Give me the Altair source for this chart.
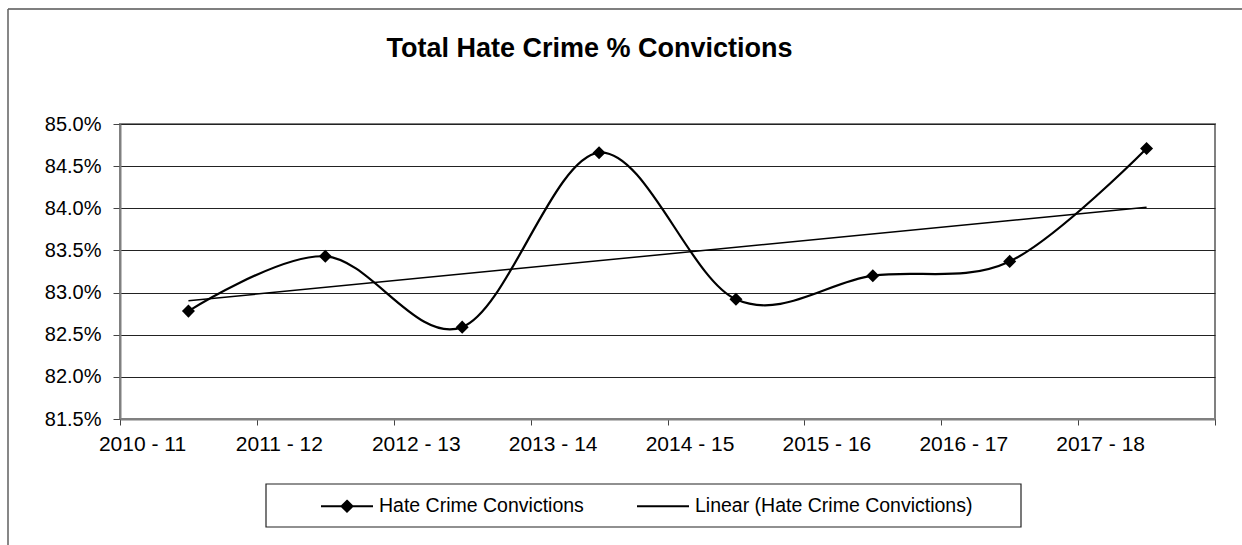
import altair as alt
import pandas as pd

years = ["2010 - 11", "2011 - 12", "2012 - 13", "2013 - 14",
         "2014 - 15", "2015 - 16", "2016 - 17", "2017 - 18"]
convictions = [82.78, 83.43, 82.59, 84.66, 82.92, 83.20, 83.37, 84.71]
series_names = ["Hate Crime Convictions", "Linear (Hate Crime Convictions)"]
y_ticks = [81.5, 82.0, 82.5, 83.0, 83.5, 84.0, 84.5, 85.0]

df = pd.DataFrame({"idx": list(range(len(years))), "year": years, "val": convictions})
legend_df = pd.DataFrame({"series": series_names, "idx": [0, 0], "val": [convictions[0], convictions[0]]})

FONT = "Arial, Liberation Sans"
W, H = 1095, 295

label_arr = "[" + ",".join("'" + y + "'" for y in years) + "]"
x_label_expr = f"datum.value < {len(years) - 1} ? {label_arr}[round(datum.value + 0.5)] : ''"

x_enc = alt.X(
    "idx:Q",
    scale=alt.Scale(domain=[-0.5, len(years) - 0.5], nice=False, zero=False),
    axis=alt.Axis(
        title=None, values=[i - 0.5 for i in range(len(years) + 1)],
        labelExpr=x_label_expr, labelOffset=22, labelPadding=8,
        labelFont=FONT, labelFontSize=21, labelColor="black",
        labelFlush=False, labelOverlap=False, labelBound=False,
        tickSize=6, tickColor="#444", domainColor="#808080", domainWidth=2,
        grid=False,
    ),
)
y_enc = alt.Y(
    "val:Q",
    scale=alt.Scale(domain=[81.5, 85.0], nice=False, zero=False),
    axis=alt.Axis(
        title=None, values=y_ticks,
        labelExpr="format(datum.value, '.1f') + '%'",
        labelFont=FONT, labelFontSize=20, labelColor="black", labelPadding=12,
        tickSize=7, tickColor="#444", domainColor="#808080", domainWidth=2,
        grid=True, gridColor="#222", gridWidth=1,
    ),
)

# legend glyphs: line with a (stroke-filled) diamond, and a plain line
p1 = ("M-1,0H1M0,-0.21L0.21,0L0,0.21L-0.21,0Z"
      "M-0.15,-0.06H0.15M-0.15,0.06H0.15M-0.09,-0.12H0.09M-0.09,0.12H0.09"
      "M-0.04,-0.17H0.04M-0.04,0.17H0.04")
p2 = "M-1,0H1"

base = alt.Chart(df)

data_line = base.mark_line(interpolate="cardinal", strokeWidth=2.2, color="black").encode(
    x=x_enc, y=y_enc
)

points = base.mark_point(shape="diamond", filled=True, size=170, color="black", opacity=1).encode(
    x="idx:Q", y="val:Q"
)

trend = base.mark_line(strokeWidth=1.5, color="black").transform_regression(
    "idx", "val"
).encode(x="idx:Q", y="val:Q")

legend_layer = alt.Chart(legend_df).mark_point(
    filled=False, color="black", strokeWidth=2
).encode(
    x="idx:Q", y="val:Q",
    opacity=alt.value(0),
    shape=alt.Shape(
        "series:N",
        scale=alt.Scale(domain=series_names, range=[p1, p2]),
        legend=alt.Legend(
            orient="none", legendX=200, legendY=355, direction="horizontal",
            columns=2, title=None, symbolSize=2704, labelFont=FONT,
            labelFontSize=19.5, labelColor="black", labelOffset=5, columnPadding=49,
            labelLimit=500, padding=0, symbolOpacity=1, symbolFillColor="black",
            symbolStrokeColor="black", symbolStrokeWidth=2,
        ),
    ),
)

deco = alt.Chart(pd.DataFrame({"k": [0]}))
frame_top = deco.mark_rule(color="#7f7f7f", strokeWidth=2).encode(
    x=alt.value(-112), x2=alt.value(1130), y=alt.value(-115)
)
frame_left = deco.mark_rule(color="#5f5f5f", strokeWidth=1.5).encode(
    x=alt.value(-112), y=alt.value(-115), y2=alt.value(430)
)
legend_box = deco.mark_rect(fill="white", stroke="#222", strokeWidth=1.2).encode(
    x=alt.value(146), x2=alt.value(901), y=alt.value(360), y2=alt.value(403)
)

chart = alt.layer(
    frame_top, frame_left, legend_box, data_line, trend, points, legend_layer
).properties(
    width=W, height=H,
    autosize=alt.AutoSizeParams(type="none"),
    padding={"left": 120, "top": 124, "right": 27, "bottom": 126},
    background="white",
    title=alt.TitleParams(
        "Total Hate Crime % Convictions", font=FONT, fontSize=27, fontWeight="bold",
        color="black", anchor="middle", frame="group", dx=-78, offset=-76,
        baseline="alphabetic",
    ),
).configure_view(stroke="#808080", strokeWidth=2)

chart.save("out.html", embed_options={"renderer": "svg", "actions": False})
